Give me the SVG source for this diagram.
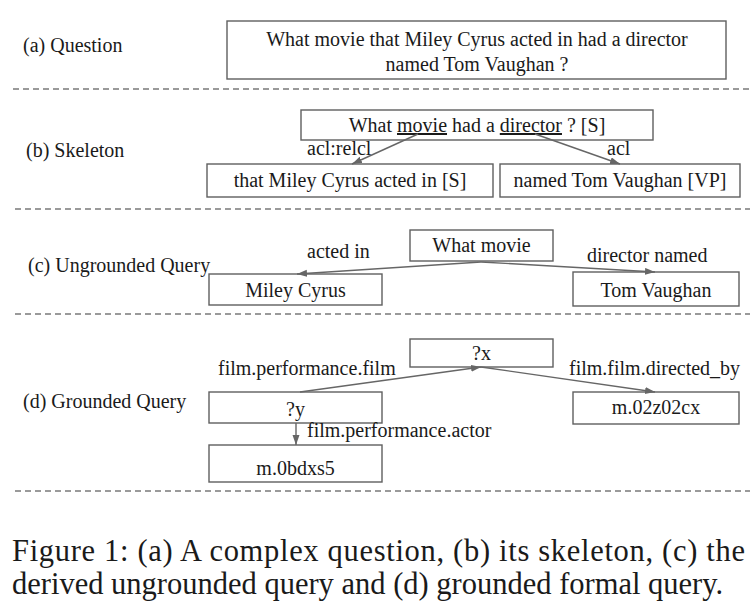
<svg xmlns="http://www.w3.org/2000/svg" width="754" height="607" viewBox="0 0 754 607">
<defs>
<style>
text{font-family:"Liberation Serif","Times New Roman",serif;font-size:20px;fill:#1a1a1a}
.c{text-anchor:middle}
.box{fill:#fff;stroke:#5f5f5f;stroke-width:1.4}
.dash{stroke:#7a7a7a;stroke-width:1.4;stroke-dasharray:6 4;fill:none}
.edge{stroke:#666;stroke-width:1.4;fill:none;marker-end:url(#ah)}
.cap{font-size:30.5px}
.ul{text-decoration:underline}
</style>
<marker id="ah" markerUnits="userSpaceOnUse" markerWidth="12" markerHeight="10" refX="10" refY="3.5" orient="auto">
<path d="M0,0 L10,3.5 L0,7 Z" fill="#666"/>
</marker>
</defs>
<rect width="754" height="607" fill="#fff"/>

<g id="section-labels">
<text x="23" y="52">(a) Question</text>
<text x="26" y="157">(b) Skeleton</text>
<text x="28" y="272">(c) Ungrounded Query</text>
<text x="23" y="408">(d) Grounded Query</text>
</g>

<g id="separators">
<line class="dash" x1="13" y1="89" x2="750" y2="89"/>
<line class="dash" x1="15" y1="209" x2="750" y2="209"/>
<line class="dash" x1="15" y1="314" x2="750" y2="314"/>
<line class="dash" x1="15" y1="491" x2="750" y2="491"/>
</g>

<g id="question">
<rect class="box" x="227" y="21" width="499" height="58"/>
<text class="c" x="477" y="46">What movie that Miley Cyrus acted in had a director</text>
<text class="c" x="477" y="71">named Tom Vaughan ?</text>
</g>

<g id="skel-root">
<rect class="box" x="301" y="110" width="352" height="30"/>
<text class="c" x="477" y="132">What <tspan class="ul">movie</tspan> had a <tspan class="ul">director</tspan> ? [S]</text>
</g>
<g id="skel-left">
<rect class="box" x="207" y="164" width="286" height="33"/>
<text class="c" x="350" y="187">that Miley Cyrus acted in [S]</text>
</g>
<g id="skel-right">
<rect class="box" x="500" y="164" width="240" height="33"/>
<text class="c" x="620" y="187">named Tom Vaughan [VP]</text>
</g>

<g id="ug-root">
<rect class="box" x="410" y="230" width="143" height="31"/>
<text class="c" x="481.5" y="252">What movie</text>
</g>
<g id="ug-miley">
<rect class="box" x="209" y="274" width="173" height="31"/>
<text class="c" x="295.5" y="297">Miley Cyrus</text>
</g>
<g id="ug-tom">
<rect class="box" x="573" y="272" width="166" height="34"/>
<text class="c" x="656" y="297">Tom Vaughan</text>
</g>

<g id="g-x">
<rect class="box" x="410" y="339" width="143" height="28"/>
<text class="c" x="481.5" y="360">?x</text>
</g>
<g id="g-y">
<rect class="box" x="209" y="392" width="173" height="31"/>
<text class="c" x="295.5" y="416">?y</text>
</g>
<g id="g-actor">
<rect class="box" x="209" y="445" width="173" height="37"/>
<text class="c" x="295.5" y="475">m.0bdxs5</text>
</g>
<g id="g-director">
<rect class="box" x="573" y="392" width="166" height="32"/>
<text class="c" x="656" y="414">m.02z02cx</text>
</g>

<g id="connectors">
<line class="edge" x1="418" y1="134" x2="352" y2="164"/>
<line class="edge" x1="535" y1="134" x2="620" y2="164"/>
<line class="edge" x1="481" y1="262" x2="297" y2="274"/>
<line class="edge" x1="481" y1="262" x2="655" y2="272"/>
<line class="edge" x1="300" y1="392" x2="481" y2="367"/>
<line class="edge" x1="481" y1="367" x2="655" y2="392"/>
<line class="edge" x1="296" y1="423" x2="296" y2="445"/>
<text x="307" y="155">acl:relcl</text>
<text x="607" y="155">acl</text>
<text x="307" y="258">acted in</text>
<text x="587" y="262">director named</text>
<text x="218" y="375">film.performance.film</text>
<text x="569" y="375">film.film.directed_by</text>
<text x="307" y="437">film.performance.actor</text>
</g>

<g id="caption">
<text class="cap" x="12" y="561" textLength="733" lengthAdjust="spacing">Figure 1: (a) A complex question, (b) its skeleton, (c) the</text>
<text class="cap" x="12" y="594">derived ungrounded query and (d) grounded formal query.</text>
</g>
</svg>
